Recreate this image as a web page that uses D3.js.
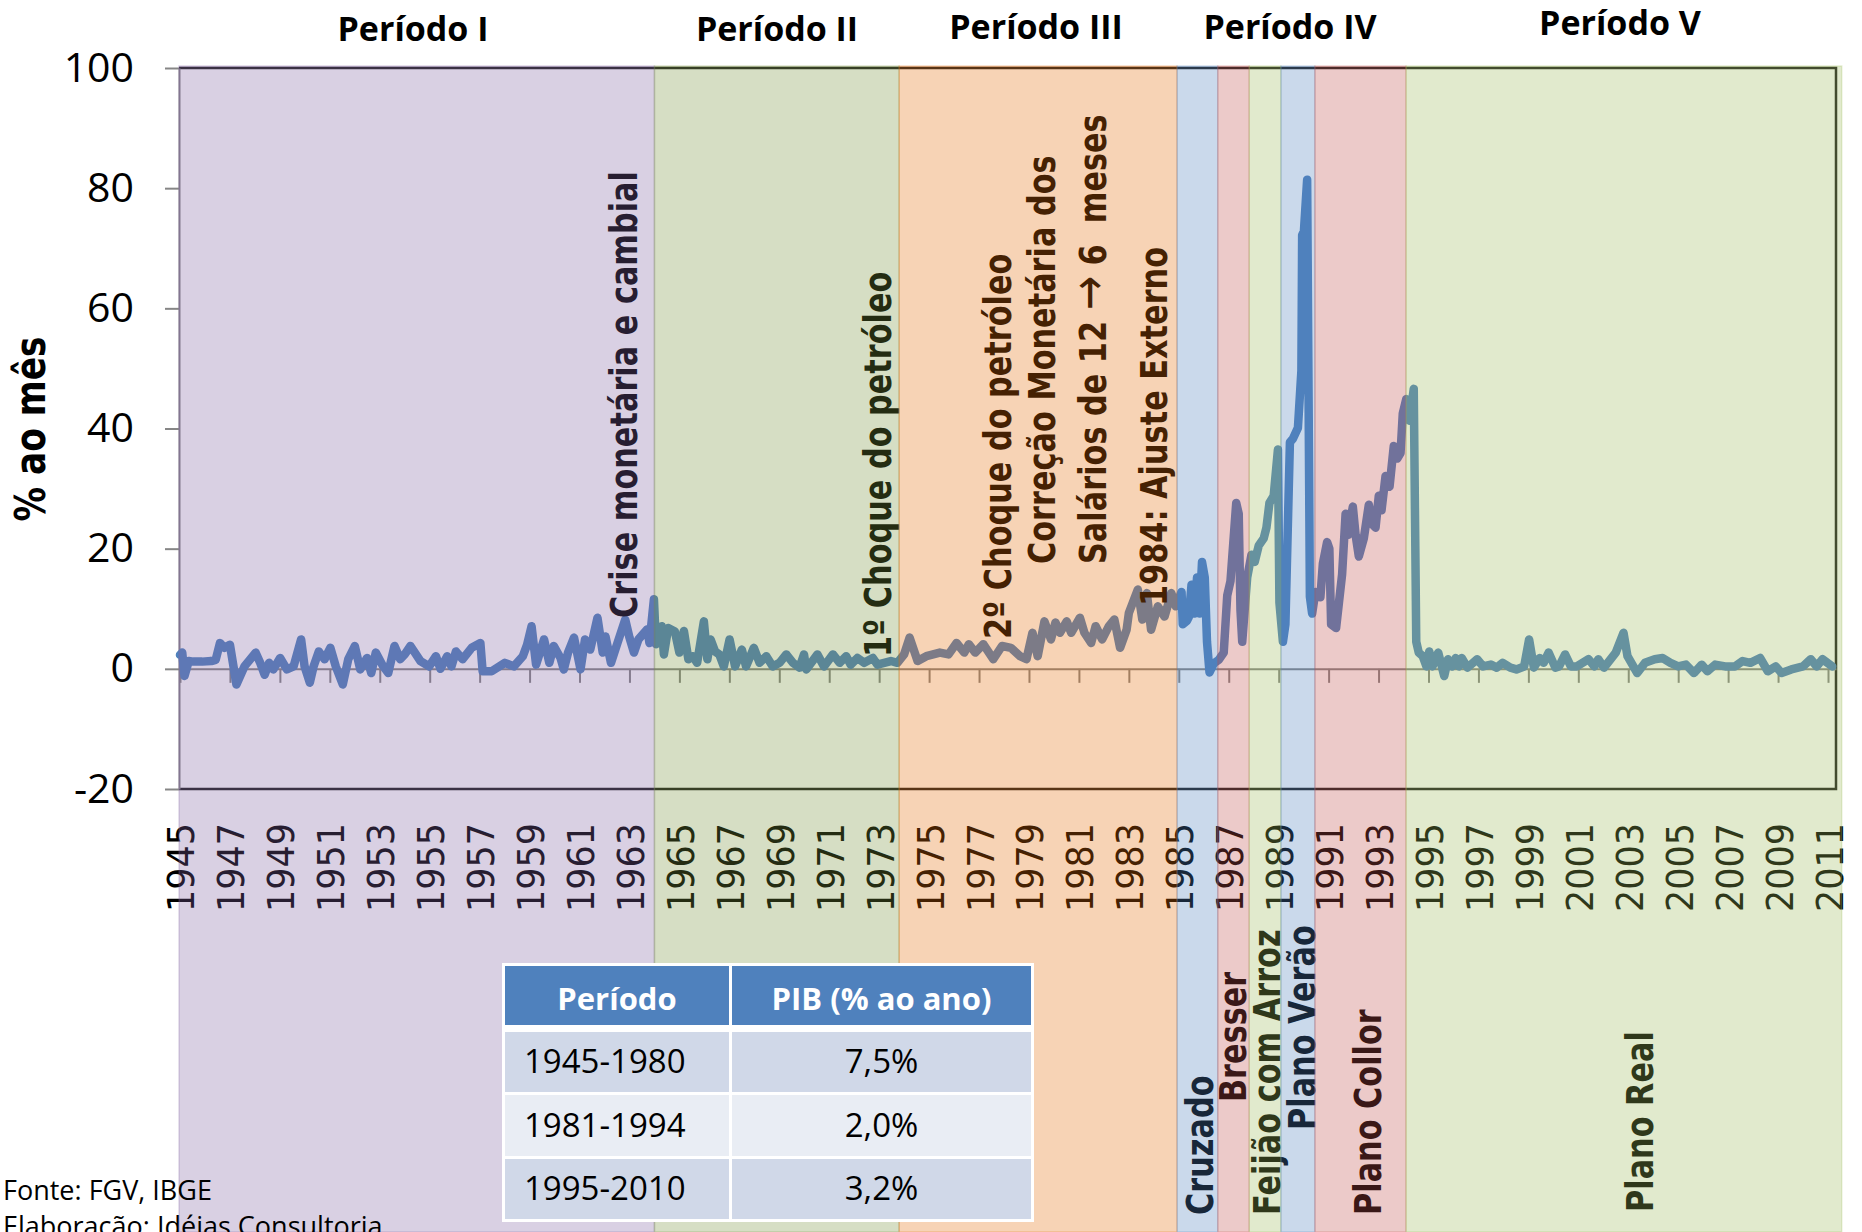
<!DOCTYPE html>
<html>
<head>
<meta charset="utf-8">
<script src="https://cdn.jsdelivr.net/npm/d3@7"></script>
<style>
  html, body { margin: 0; padding: 0; background: #fff; }
  svg { display: block; }
  text { white-space: pre; }
</style>
</head>
<body>
<svg width="1862" height="1232"></svg>
<script>
// Inflação mensal (% ao mês): [ano, valor]
const periodo1 = [
  [1945.0, 2.3], [1945.09, 2.7], [1945.18, -1.2], [1945.35, 1.3], [1945.53, 1.2], [1945.89, 1.2],
  [1946.25, 1.3], [1946.43, 1.5], [1946.6, 4.3], [1946.78, 3.5], [1947.0, 4.0], [1947.26, -2.6],
  [1947.58, 0.4], [1948.03, 2.7], [1948.21, 1.0], [1948.39, -1.0], [1948.57, 1.0], [1948.74, -0.1],
  [1949.01, 1.8], [1949.28, -0.1], [1949.55, 0.4], [1949.85, 4.9], [1949.99, 0.4], [1950.2, -2.3],
  [1950.35, 0.4], [1950.56, 2.9], [1950.79, 1.6], [1951.02, 3.5], [1951.24, 0.4], [1951.52, -2.6],
  [1951.74, 1.6], [1952.0, 3.8], [1952.22, -0.1], [1952.49, 1.8], [1952.66, -0.7], [1952.84, 2.7],
  [1953.11, 0.6], [1953.34, -0.7], [1953.59, 3.8], [1953.82, 1.6], [1954.0, 2.4], [1954.23, 3.8],
  [1954.63, 1.3], [1954.98, 0.4], [1955.25, 2.1], [1955.43, 0.0], [1955.7, 2.1], [1955.87, 0.4],
  [1956.05, 2.9], [1956.32, 1.6], [1956.68, 3.5], [1957.03, 4.3], [1957.12, -0.4], [1957.48, -0.4],
  [1958.01, 1.0], [1958.37, 0.4], [1958.73, 2.1], [1958.9, 4.0], [1959.08, 7.1], [1959.26, 0.7],
  [1959.58, 4.9], [1959.79, 1.0], [1959.97, 3.8], [1960.24, 1.8], [1960.37, -0.1], [1960.54, 2.7],
  [1960.78, 5.2], [1961.04, -0.1], [1961.22, 4.9], [1961.43, 3.2], [1961.72, 8.5], [1961.93, 2.7],
  [1962.04, 5.4], [1962.26, 1.0], [1962.52, 4.3], [1962.83, 8.2], [1963.0, 5.2], [1963.18, 2.7],
  [1963.36, 4.9], [1963.72, 6.6], [1963.8, 4.3], [1963.98, 11.6]
];

const periodo2 = [
  [1964.06, 4.1], [1964.29, 7.1], [1964.38, 2.4], [1964.55, 6.8], [1964.82, 6.2], [1965.0, 2.7],
  [1965.18, 6.3], [1965.36, 1.6], [1965.53, 2.1], [1965.71, 1.0], [1965.98, 7.9], [1966.12, 1.6],
  [1966.25, 4.9], [1966.43, 2.9], [1966.6, 2.4], [1966.78, 0.4], [1967.01, 4.9], [1967.23, 0.4],
  [1967.5, 3.2], [1967.67, 0.4], [1967.98, 3.5], [1968.21, 1.0], [1968.48, 2.1], [1968.74, 0.4],
  [1969.01, 1.0], [1969.28, 2.4], [1969.55, 1.0], [1969.81, 0.2], [1969.99, 2.4], [1970.08, -0.1],
  [1970.53, 2.4], [1970.79, 0.4], [1971.15, 2.4], [1971.42, 1.0], [1971.68, 2.1], [1971.86, 0.7],
  [1972.13, 1.8], [1972.4, 1.0], [1972.75, 1.8], [1972.93, 0.7], [1973.47, 1.3], [1973.73, 1.0]
];

const periodo3 = [
  [1974.0, 2.4], [1974.22, 5.2], [1974.54, 1.3], [1974.89, 2.1], [1975.43, 2.7], [1975.78, 2.4],
  [1976.1, 4.3], [1976.41, 2.7], [1976.59, 4.1], [1976.85, 2.7], [1977.17, 4.1], [1977.57, 1.6],
  [1977.92, 3.8], [1978.28, 3.5], [1978.64, 2.1], [1978.9, 1.6], [1979.14, 6.0], [1979.35, 2.1],
  [1979.62, 7.9], [1979.88, 4.9], [1980.06, 7.7], [1980.24, 6.0], [1980.51, 7.9], [1980.69, 6.0],
  [1981.04, 8.5], [1981.22, 6.0], [1981.49, 4.3], [1981.67, 7.1], [1981.93, 4.9], [1982.2, 7.1],
  [1982.42, 8.2], [1982.65, 3.5], [1982.91, 6.5], [1983.0, 9.3], [1983.36, 13.2], [1983.54, 8.2],
  [1983.72, 12.6], [1983.89, 6.5], [1984.16, 10.4], [1984.43, 8.7], [1984.7, 12.6], [1984.88, 10.4]
];

const periodo4 = [
  [1985.11, 12.8], [1985.16, 7.4], [1985.33, 8.0], [1985.4, 8.6], [1985.51, 14.0], [1985.64, 9.2],
  [1985.73, 15.2], [1985.83, 9.2], [1985.93, 17.8], [1986.04, 15.2], [1986.13, 4.5], [1986.23, -0.6],
  [1986.4, 0.9], [1986.6, 1.5], [1986.8, 2.7], [1986.94, 12.2], [1987.07, 14.6], [1987.3, 27.6],
  [1987.4, 25.8], [1987.47, 9.8], [1987.54, 4.5], [1987.74, 15.2], [1987.91, 19.0], [1988.04, 17.8],
  [1988.2, 20.5], [1988.4, 21.7], [1988.51, 23.5], [1988.63, 27.6], [1988.8, 28.8], [1988.97, 36.5],
  [1989.03, 11.0], [1989.17, 4.5], [1989.27, 7.4], [1989.45, 37.7], [1989.57, 38.3], [1989.77, 40.1],
  [1989.91, 49.6], [1989.94, 72.2], [1990.01, 72.8], [1990.14, 81.4], [1990.25, 12.0], [1990.34, 9.2],
  [1990.47, 12.8], [1990.67, 11.9], [1990.77, 17.5], [1990.94, 21.1], [1991.03, 20.0], [1991.1, 7.4],
  [1991.3, 6.8], [1991.54, 15.7], [1991.68, 25.8], [1991.78, 22.3], [1991.97, 27.0], [1992.08, 22.3],
  [1992.21, 18.7], [1992.41, 21.7], [1992.61, 27.3], [1992.74, 24.1], [1992.88, 23.5], [1993.01, 28.8],
  [1993.12, 26.4], [1993.28, 32.1], [1993.44, 30.3], [1993.61, 37.1], [1993.75, 35.0], [1993.88, 35.9],
  [1993.97, 42.5], [1994.11, 44.9], [1994.24, 41.3], [1994.41, 46.6]
];

const periodo5 = [
  [1994.51, 4.5], [1994.61, 2.7], [1994.77, 2.1], [1994.92, 0.4], [1995.03, 2.9], [1995.16, 0.4],
  [1995.39, 2.7], [1995.63, -1.2], [1995.78, 1.6], [1995.94, 0.4], [1996.09, 1.8], [1996.22, 0.4],
  [1996.33, 1.8], [1996.56, 0.2], [1996.95, 1.6], [1997.19, 0.4], [1997.5, 0.7], [1997.73, 0.2],
  [1997.97, 1.0], [1998.28, 0.2], [1998.52, -0.1], [1998.83, 0.4], [1999.03, 4.9], [1999.22, 0.2],
  [1999.45, 1.8], [1999.61, 1.0], [1999.81, 2.7], [2000.08, 0.2], [2000.23, 0.4], [2000.47, 2.4],
  [2000.7, 0.4], [2000.94, 0.4], [2001.41, 1.6], [2001.64, 0.4], [2001.8, 1.6], [2002.03, 0.2],
  [2002.5, 2.7], [2002.81, 6.0], [2002.97, 2.1], [2003.36, -0.7], [2003.67, 1.0], [2004.06, 1.6],
  [2004.38, 1.8], [2004.69, 1.0], [2005.0, 0.4], [2005.31, 0.7], [2005.63, -0.7], [2005.94, 0.7],
  [2006.17, -0.4], [2006.48, 0.7], [2006.88, 0.4], [2007.27, 0.4], [2007.58, 1.3], [2007.89, 1.0],
  [2008.28, 1.8], [2008.59, -0.4], [2008.91, 0.4], [2009.14, -0.7], [2009.53, -0.1], [2010.0, 0.4],
  [2010.31, 1.6], [2010.55, 0.4], [2010.78, 1.6], [2011.17, 0.4]
];

// faixas (planos / períodos), limites em anos
const bandEdges  = [1944.96, 1964.0, 1973.8, 1984.93, 1986.56, 1987.82, 1989.09, 1990.45, 1994.1, 2011.55];
const bandColors = ['#8064A2', '#77933C', '#E46C0A', '#4F81BD', '#C0504D', '#9BBB59', '#4F81BD', '#C0504D', '#9BBB59'];

const periodTitles = ['Período I', 'Período II', 'Período III', 'Período IV', 'Período V'];
const yearTicks = [1945, 1947, 1949, 1951, 1953, 1955, 1957, 1959, 1961, 1963, 1965, 1967, 1969, 1971,
  1973, 1975, 1977, 1979, 1981, 1983, 1985, 1987, 1989, 1991, 1993, 1995, 1997, 1999, 2001, 2003,
  2005, 2007, 2009, 2011];
const valueTicks = [-20, 0, 20, 40, 60, 80, 100];

const notesTop = ['Crise monetária e cambial', '1º Choque do petróleo', '2º Choque do petróleo',
  'Correção Monetária dos', 'Salários de 12 → 6  meses', '1984: Ajuste Externo'];
const notesBottom = ['Cruzado', 'Bresser', 'Feijão com Arroz', 'Plano Verão', 'Plano Collor', 'Plano Real'];

const tableHeader  = ['Período', 'PIB (% ao ano)'];
const tablePeriods = ['1945-1980', '1981-1994', '1995-2010'];
const tablePib     = ['7,5%', '2,0%', '3,2%'];

// ---------------------------------------------------------------
const W = 1862, H = 1232;
const plot = { left: 179, right: 1836, top: 68, bottom: 789 };

const svg = d3.select('svg');
svg.append('rect').attr('width', W).attr('height', H).attr('fill', '#fff');

const x = d3.scaleLinear().domain([1944.96, 2011.32]).range([plot.left, plot.right]);
const y = d3.scaleLinear().domain([-20, 100]).range([plot.bottom, plot.top]);

// layer drawn below the translucent bands
const under = svg.append('g');

// frame
under.append('path')
  .attr('d', `M${plot.left},${plot.top}H${plot.right}V${plot.bottom}H${plot.left}`)
  .attr('fill', 'none')
  .attr('stroke', '#1c1c1c')
  .attr('stroke-width', 2.5);

// category axis crossing at zero
let xAxis = d3.axisBottom(x)
  .tickValues(yearTicks)
  .tickFormat(d3.format('d'))
  .tickSize(14)
  .tickSizeOuter(0);

let gx = under.append('g')
  .attr('transform', `translate(0,${y(0)})`)
  .call(xAxis);

gx.select('.domain').attr('stroke', '#868686').attr('stroke-width', 2);
gx.selectAll('.tick line').attr('stroke', '#868686').attr('stroke-width', 2);
gx.selectAll('.tick text')
  .attr('y', null)
  .attr('dy', null)
  .attr('text-anchor', 'end')
  .attr('transform', `translate(14,${823 - y(0)}) rotate(-90) scale(0.92,1)`)
  .attr('font-family', 'DejaVu Sans')
  .attr('font-size', 38)
  .attr('fill', '#000');

// value axis
let yAxis = d3.axisLeft(y)
  .tickValues(valueTicks)
  .tickFormat(d => String(d))
  .tickSize(14)
  .tickSizeOuter(0)
  .tickPadding(31);

let gy = under.append('g')
  .attr('transform', `translate(${plot.left},0)`)
  .call(yAxis);

gy.select('.domain').attr('stroke', '#868686').attr('stroke-width', 2);
gy.selectAll('.tick line').attr('stroke', '#868686').attr('stroke-width', 2);
gy.selectAll('.tick text')
  .attr('font-family', 'Open Sans')
  .attr('font-size', 41)
  .attr('fill', '#000');

// series
const serie = [].concat(periodo1, periodo2, periodo3, periodo4, periodo5);
const line = d3.line().x(d => x(d[0])).y(d => y(d[1]));

under.append('path')
  .datum(serie)
  .attr('d', line)
  .attr('fill', 'none')
  .attr('stroke', '#4F81BD')
  .attr('stroke-width', 8.5)
  .attr('stroke-linejoin', 'round')
  .attr('stroke-linecap', 'round');

// vertical notes: [baseline x, start y]
const topAt    = [[637, 618], [891, 657], [1011, 639], [1055, 564], [1106, 564], [1167, 606]];
const bottomAt = [[1213, 1215], [1246, 1102], [1280, 1215], [1315, 1130], [1381, 1215], [1653, 1212]];

function notes (labels, at) {
  under.append('g')
    .selectAll('text')
    .data(labels)
    .join('text')
      .attr('transform', (d, i) => `translate(${at[i][0]},${at[i][1]}) rotate(-90) scale(0.82,1)`)
      .attr('font-family', 'DejaVu Sans')
      .attr('font-weight', 'bold')
      .attr('font-size', 37)
      .attr('fill', '#000')
      .each(function (d) {
        let parts = d.split('→');
        let t = d3.select(this);
        parts.forEach((p, k) => {
          if (k > 0) {
            t.append('tspan')
              .attr('font-weight', 'normal')
              .attr('font-size', 50)
              .text('→');
          }
          t.append('tspan').text(p);
        });
      });
}
notes(notesTop, topAt);
notes(notesBottom, bottomAt);

// translucent bands on top
svg.append('g')
  .selectAll('rect')
  .data(bandColors)
  .join('rect')
    .attr('x', (d, i) => x(bandEdges[i]))
    .attr('width', (d, i) => x(bandEdges[i + 1]) - x(bandEdges[i]))
    .attr('y', 66)
    .attr('height', H - 66)
    .attr('fill', d => d)
    .attr('fill-opacity', 0.3)
    .attr('stroke', d => d)
    .attr('stroke-opacity', 0.25)
    .attr('stroke-width', 1.5);

// axis title
svg.append('text')
  .attr('transform', 'translate(45,429) rotate(-90) scale(0.82,1)')
  .attr('text-anchor', 'middle')
  .attr('font-family', 'DejaVu Sans')
  .attr('font-weight', 'bold')
  .attr('font-size', 42)
  .text('% ao mês');

// period titles
const titleAt = [[413, 41], [777, 41], [1036, 39], [1290, 39], [1620, 35]];
svg.append('g')
  .selectAll('text')
  .data(periodTitles)
  .join('text')
    .attr('x', (d, i) => titleAt[i][0])
    .attr('y', (d, i) => titleAt[i][1])
    .attr('text-anchor', 'middle')
    .attr('font-family', 'Open Sans')
    .attr('font-weight', 'bold')
    .attr('font-size', 34)
    .text(d => d);

// GDP table
const tbl = svg.append('g');
const col = [[505, 729], [732, 1031]];
const rowY = [[966, 1025], [1032, 1092], [1095, 1156], [1159, 1219]];
const rowFill = ['#4F81BD', '#D0D8E8', '#E9EDF4', '#D0D8E8'];

tbl.append('rect')
  .attr('x', 502).attr('y', 963)
  .attr('width', 532).attr('height', 259)
  .attr('fill', '#fff');

rowY.forEach((r, i) => {
  col.forEach(c => {
    tbl.append('rect')
      .attr('x', c[0]).attr('y', r[0])
      .attr('width', c[1] - c[0]).attr('height', r[1] - r[0])
      .attr('fill', rowFill[i]);
  });
});

tbl.selectAll('.head')
  .data(tableHeader)
  .join('text')
    .attr('class', 'head')
    .attr('x', (d, i) => (col[i][0] + col[i][1]) / 2)
    .attr('y', 1010)
    .attr('text-anchor', 'middle')
    .attr('font-family', 'Open Sans')
    .attr('font-weight', 'bold')
    .attr('font-size', 31)
    .attr('fill', '#fff')
    .text(d => d);

const rowBase = [1073, 1137, 1200];
tbl.selectAll('.per')
  .data(tablePeriods)
  .join('text')
    .attr('class', 'per')
    .attr('x', 524)
    .attr('y', (d, i) => rowBase[i])
    .attr('font-family', 'Open Sans')
    .attr('font-size', 33)
    .attr('fill', '#000')
    .text(d => d);

tbl.selectAll('.pib')
  .data(tablePib)
  .join('text')
    .attr('class', 'pib')
    .attr('x', (col[1][0] + col[1][1]) / 2)
    .attr('y', (d, i) => rowBase[i])
    .attr('text-anchor', 'middle')
    .attr('font-family', 'Open Sans')
    .attr('font-size', 33)
    .attr('fill', '#000')
    .text(d => d);

// source
svg.append('text')
  .attr('x', 3).attr('y', 1200)
  .attr('font-family', 'Open Sans')
  .attr('font-size', 27)
  .text('Fonte: FGV, IBGE');

svg.append('text')
  .attr('x', 3).attr('y', 1236)
  .attr('font-family', 'Open Sans')
  .attr('font-size', 27)
  .text('Elaboração: Idéias Consultoria');
</script>
</body>
</html>
